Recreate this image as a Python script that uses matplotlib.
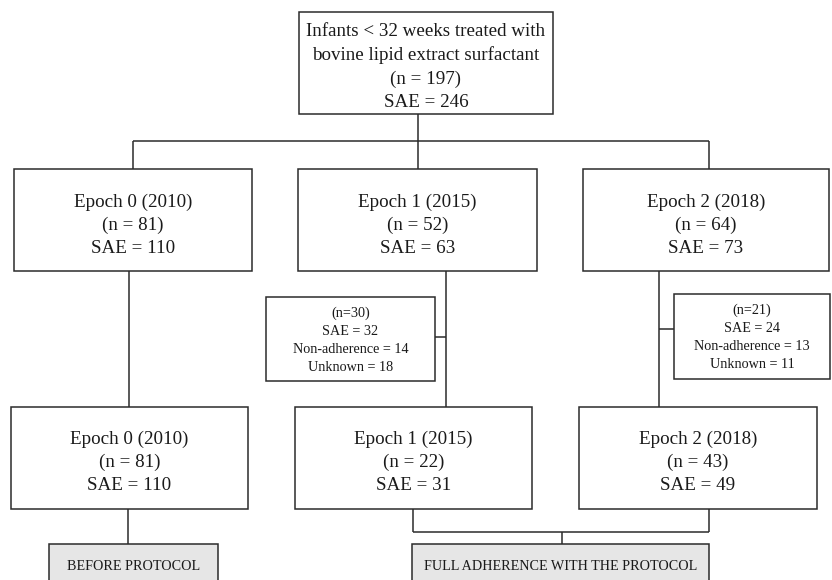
import matplotlib
matplotlib.use("Agg")
import matplotlib.pyplot as plt
from matplotlib.patches import Rectangle

# ---- content ----
top_text = ["Infants < 32 weeks treated with", "bovine lipid extract surfactant", "(n = 197)", "SAE = 246"]
epochs = ["Epoch 0 (2010)", "Epoch 1 (2015)", "Epoch 2 (2018)"]
n_before = [81, 52, 64]
sae_before = [110, 63, 73]
n_after = [81, 22, 43]
sae_after = [110, 31, 49]
excl_n = [30, 21]
excl_sae = [32, 24]
excl_nonadh = [14, 13]
excl_unknown = [18, 11]
group_labels = ["BEFORE PROTOCOL", "FULL ADHERENCE WITH THE PROTOCOL"]

# ---- layout (pixel coordinates) ----
W, H = 832, 580
fig = plt.figure(figsize=(W / 100, H / 100), dpi=100)
ax = fig.add_axes([0, 0, 1, 1])
ax.set_xlim(0, W)
ax.set_ylim(H, 0)
ax.axis("off")

LC = "#2b2b2b"
LW = 1.1
FONT = "Liberation Serif"


def box(x0, y0, x1, y1, fc="white"):
    ax.add_patch(Rectangle((x0, y0), x1 - x0, y1 - y0, facecolor=fc,
                           edgecolor=LC, linewidth=LW, zorder=2))


def line(xs, ys):
    ax.plot(xs, ys, color=LC, linewidth=LW, zorder=1, solid_capstyle="butt")


def txt(x, y, s, size, ls=1.15):
    ax.text(x, y, s, ha="center", va="center", fontsize=size, family=FONT,
            color="#1a1a1a", linespacing=ls, zorder=3)


BIG = 13.7
BIG_LS = 1.45

# top box
box(299, 12, 553, 114)
txt(426, 67, "\n".join(top_text), BIG, BIG_LS)

# connectors top -> row 2
line([418, 418], [114, 141])
line([133, 709], [141, 141])
for x in [133, 418, 709]:
    line([x, x], [141, 169])

# row 2 boxes
row2 = [(14, 252), (298, 537), (583, 829)]
for (x0, x1), e, n, s in zip(row2, epochs, n_before, sae_before):
    box(x0, 169, x1, 271)
    txt((x0 + x1) / 2, 225, f"{e}\n(n = {n})\nSAE = {s}", BIG, BIG_LS)

# row 2 -> row 3 verticals
down_x = [129, 446, 659]
for x in down_x:
    line([x, x], [271, 407])

# exclusion boxes
excl = [(266, 297, 435, 381, 446, 337), (674, 294, 830, 379, 659, 329)]
for (x0, y0, x1, y1, vx, cy), n, s, na, u in zip(excl, excl_n, excl_sae, excl_nonadh, excl_unknown):
    box(x0, y0, x1, y1)
    line([x1 if vx > x1 else x0, vx], [cy, cy])
    txt((x0 + x1) / 2, (y0 + y1) / 2 + 1,
        f"(n={n})\nSAE = {s}\nNon-adherence = {na}\nUnknown = {u}", 10.2, 1.5)

# row 3 boxes
row3 = [(11, 248), (295, 532), (579, 817)]
for (x0, x1), e, n, s in zip(row3, epochs, n_after, sae_after):
    box(x0, 407, x1, 509)
    txt((x0 + x1) / 2, 462, f"{e}\n(n = {n})\nSAE = {s}", BIG, BIG_LS)

# row 3 -> groups
line([128, 128], [509, 544])
line([413, 413], [509, 532])
line([709, 709], [509, 532])
line([413, 709], [532, 532])
line([562, 562], [532, 544])

# group boxes (cut at bottom)
box(49, 544, 218, 600, fc="#e6e6e6")
box(412, 544, 709, 600, fc="#e6e6e6")
txt(133.5, 566, group_labels[0], 10.2)
txt(560.5, 566, group_labels[1], 10.2)

fig.savefig("out.png", dpi=100)
